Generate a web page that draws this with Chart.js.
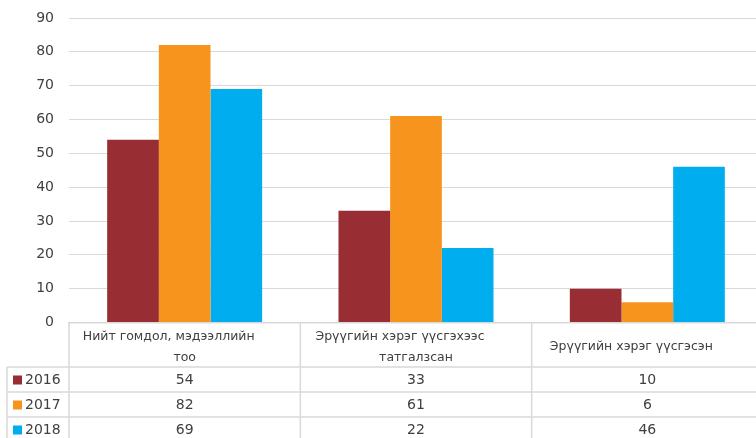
<!DOCTYPE html>
<html>
<head>
<meta charset="utf-8">
<script src="https://cdn.jsdelivr.net/npm/chart.js@4.4.0/dist/chart.umd.min.js"></script>
<style>
  html, body { margin: 0; padding: 0; background: #fff; overflow: hidden; }
  #wrap { position: relative; width: 764px; height: 438px; }
</style>
</head>
<body>
<div id="wrap"><canvas id="chart"></canvas></div>
<script>
const categories = [
    ['Нийт гомдол, мэдээллийн', 'тоо'],
    ['Эрүүгийн хэрэг үүсгэхээс', 'татгалзсан'],
    ['Эрүүгийн хэрэг үүсгэсэн']
];
const years = ['2016', '2017', '2018'];
const values2016 = [54, 33, 10];
const values2017 = [82, 61, 6];
const values2018 = [69, 22, 46];
const yTicks = [0, 10, 20, 30, 40, 50, 60, 70, 80, 90];

const colors = ['#982D33', '#F7941D', '#00AEEF'];
const seriesValues = [values2016, values2017, values2018];
const textColor = '#404040';
const lineColor = '#d9d9d9';
const fontFamily = '"DejaVu Sans", sans-serif';

// draws the data table under the plot, using the x scale for the columns
const dataTable = {
    id: 'dataTable',
    afterDraw(chart) {
        const ctx = chart.ctx;
        const x = chart.scales.x;
        const top = chart.chartArea.bottom;
        const headerH = 44.5;
        const rowH = 25;
        const legendLeft = 7;
        const n = categories.length;
        const step = (x.right - x.left) / n;

        ctx.save();
        ctx.strokeStyle = lineColor;
        ctx.lineWidth = 1.5;

        // vertical lines
        for (let i = 0; i <= n; i++) {
            const xx = x.left + step * i;
            ctx.beginPath();
            ctx.moveTo(xx, top);
            ctx.lineTo(xx, top + headerH + rowH * 4);
            ctx.stroke();
        }
        ctx.beginPath();
        ctx.moveTo(legendLeft, top + headerH);
        ctx.lineTo(legendLeft, top + headerH + rowH * 4);
        ctx.stroke();

        // horizontal lines
        for (let r = 0; r <= years.length; r++) {
            const yy = top + headerH + rowH * r;
            ctx.beginPath();
            ctx.moveTo(legendLeft, yy);
            ctx.lineTo(x.right, yy);
            ctx.stroke();
        }

        ctx.fillStyle = textColor;
        ctx.font = '12.5px ' + fontFamily;
        ctx.textAlign = 'center';
        ctx.textBaseline = 'middle';

        // header labels
        categories.forEach((lines, i) => {
            const cx = x.getPixelForValue(i);
            if (lines.length === 1) {
                ctx.fillText(lines[0], cx - 16, top + headerH / 2 + 2);
            } else {
                ctx.fillText(lines[0], cx - 16, top + 14.5);
                ctx.fillText(lines[1], cx, top + 35);
            }
        });

        // rows
        ctx.font = '14px ' + fontFamily;
        years.forEach((year, r) => {
            const cy = top + headerH + rowH * r + rowH / 2 + 1;
            ctx.fillStyle = colors[r];
            ctx.fillRect(13, cy - 5, 9, 9);
            ctx.fillStyle = textColor;
            ctx.textAlign = 'left';
            ctx.fillText(year, 25, cy);
            ctx.textAlign = 'center';
            seriesValues[r].forEach((v, i) => {
                ctx.fillText(String(v), x.getPixelForValue(i), cy);
            });
        });
        ctx.restore();
    }
};

const chart = new Chart(document.getElementById('chart'), {
    type: 'bar',
    data: {
        labels: categories.map(c => c.join(' ')),
        datasets: years.map((year, i) => ({
            label: year,
            data: seriesValues[i],
            backgroundColor: colors[i],
            borderWidth: 0,
            categoryPercentage: 0.67,
            barPercentage: 1
        }))
    },
    options: {
        responsive: true,
        maintainAspectRatio: false,
        animation: false,
        layout: {
            padding: { top: 18, bottom: 115.5, left: 0, right: 1 }
        },
        scales: {
            x: {
                ticks: { display: false },
                grid: { display: false },
                border: { display: true, color: lineColor, width: 1.5 },
                afterFit: (scale) => { scale.height = 0; }
            },
            y: {
                min: 0,
                max: 90,
                afterBuildTicks: (scale) => { scale.ticks = yTicks.map(v => ({ value: v })); },
                ticks: {
                    color: textColor,
                    padding: 15,
                    font: { family: fontFamily, size: 14 }
                },
                grid: { color: lineColor, drawTicks: false },
                border: { display: false },
                afterFit: (scale) => {
                    scale.width = 69;
                    scale.paddingTop = 0;
                    scale.paddingBottom = 0;
                }
            }
        },
        plugins: {
            legend: { display: false },
            tooltip: { enabled: false }
        }
    },
    plugins: [dataTable]
});
</script>
</body>
</html>
